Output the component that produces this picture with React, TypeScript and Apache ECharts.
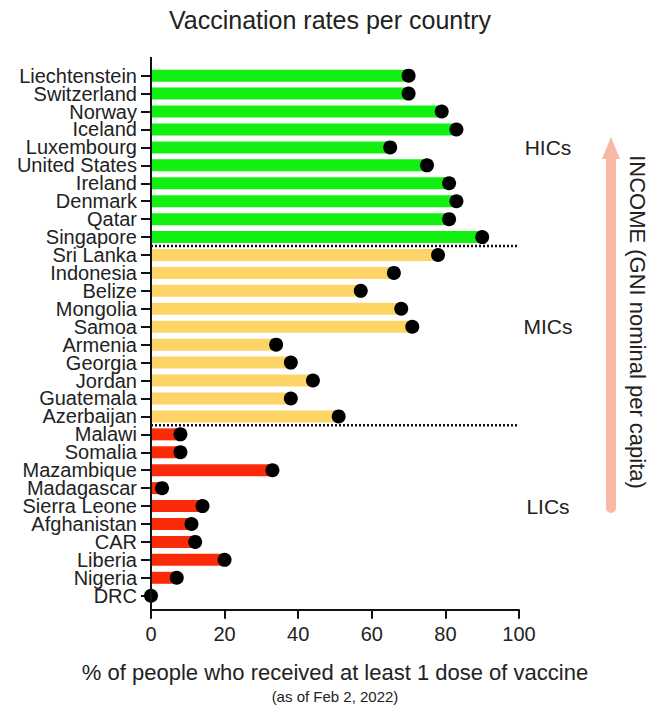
import React, { useEffect, useRef } from "react";
import * as echarts from "echarts";

const countries = [
  "Liechtenstein", "Switzerland", "Norway", "Iceland", "Luxembourg",
  "United States", "Ireland", "Denmark", "Qatar", "Singapore",
  "Sri Lanka", "Indonesia", "Belize", "Mongolia", "Samoa",
  "Armenia", "Georgia", "Jordan", "Guatemala", "Azerbaijan",
  "Malawi", "Somalia", "Mazambique", "Madagascar", "Sierra Leone",
  "Afghanistan", "CAR", "Liberia", "Nigeria", "DRC",
];
const vaccinated = [
  70, 70, 79, 83, 65, 75, 81, 83, 81, 90,
  78, 66, 57, 68, 71, 34, 38, 44, 38, 51,
  8, 8, 33, 3, 14, 11, 12, 20, 7, 0,
];
const incomeGroup = [
  "HIC", "HIC", "HIC", "HIC", "HIC", "HIC", "HIC", "HIC", "HIC", "HIC",
  "MIC", "MIC", "MIC", "MIC", "MIC", "MIC", "MIC", "MIC", "MIC", "MIC",
  "LIC", "LIC", "LIC", "LIC", "LIC", "LIC", "LIC", "LIC", "LIC", "LIC",
];
const groupNames = ["HIC", "MIC", "LIC"];
const groupLabels = ["HICs", "MICs", "LICs"];
const groupColors: Record<string, string> = { HIC: "#12f012", MIC: "#fdd466", LIC: "#fb2b0a" };
const xTicks = [0, 20, 40, 60, 80, 100];

const FONT = "'Liberation Sans', Arial, sans-serif";
const TXT = "#222";

export default function App() {
  const ref = useRef<HTMLDivElement>(null);
  useEffect(() => {
    if (!ref.current) return;
    const chart = echarts.init(ref.current, undefined, { renderer: "svg" });
    const boundaries: number[] = [];
    for (let i = 1; i < incomeGroup.length; i++) {
      if (incomeGroup[i] !== incomeGroup[i - 1]) boundaries.push(i);
    }
    const gridLeft = 151, gridTop = 66.7, gridW = 368, gridH = 538;
    const rowH = gridH / countries.length;
    const labelText = groupNames.map((g, k) => {
      const first = incomeGroup.indexOf(g);
      const y = gridTop + rowH * (first + 4.5);
      return {
        type: "text",
        x: 548,
        y,
        style: { text: groupLabels[k], font: `21px ${FONT}`, fill: TXT, textAlign: "center", textVerticalAlign: "middle" },
      };
    });
    const separators = boundaries.map((b) => ({
      type: "line",
      shape: { x1: gridLeft, y1: gridTop + rowH * b, x2: gridLeft + gridW, y2: gridTop + rowH * b },
      style: { stroke: "#111", lineWidth: 2.5, lineDash: [2, 2] },
      z: 5,
    }));
    chart.setOption({
      animation: false,
      textStyle: { fontFamily: FONT },
      grid: { left: gridLeft, top: gridTop, width: gridW, height: gridH, containLabel: false },
      xAxis: {
        type: "value",
        min: xTicks[0],
        max: xTicks[xTicks.length - 1],
        interval: xTicks[1] - xTicks[0],
        offset: 5,
        axisLine: { show: true, lineStyle: { color: "#111", width: 2 } },
        axisTick: { show: true, length: 9, lineStyle: { color: "#111", width: 2 } },
        axisLabel: { fontSize: 20, color: TXT, margin: 14, fontFamily: FONT },
        splitLine: { show: false },
        name: "% of people who received at least 1 dose of vaccine",
        nameLocation: "middle",
        nameGap: 52,
        nameTextStyle: { fontSize: 22, color: TXT, fontFamily: FONT },
      },
      yAxis: {
        type: "category",
        data: countries,
        inverse: true,
        axisLine: { show: false },
        axisTick: { show: true, alignWithLabel: true, length: 10, lineStyle: { color: "#111", width: 2 } },
        axisLabel: { fontSize: 20, lineHeight: 17, color: TXT, margin: 14, fontFamily: FONT, interval: 0 },
        splitLine: { show: false },
      },
      series: [
        {
          type: "bar",
          barWidth: 12,
          data: vaccinated.map((v, i) => ({ value: v, itemStyle: { color: groupColors[incomeGroup[i]] } })),
          z: 2,
        },
        {
          type: "scatter",
          symbolSize: 14,
          itemStyle: { color: "#000", opacity: 1 },
          data: countries.map((c, i) => [vaccinated[i], c]),
          z: 3,
        },
      ],
      graphic: [
        {
          type: "text",
          x: 330,
          y: 20,
          style: { text: "Vaccination rates per country", font: `25px ${FONT}`, fill: TXT, textAlign: "center", textVerticalAlign: "middle" },
        },
        {
          type: "text",
          x: 335,
          y: 696,
          style: { text: "(as of Feb 2, 2022)", font: `15px ${FONT}`, fill: TXT, textAlign: "center", textVerticalAlign: "middle" },
        },
        {
          type: "line",
          shape: { x1: gridLeft, y1: 57, x2: gridLeft, y2: gridTop + gridH + 6 },
          style: { stroke: "#111", lineWidth: 2 },
          z: 10,
        },
        ...separators,
        ...labelText,
        {
          type: "rect",
          shape: { x: 606, y: 152, width: 10, height: 361, r: [0, 0, 5, 5] },
          style: { fill: "#f9b7a5" },
        },
        {
          type: "polygon",
          shape: { points: [[602, 159], [611, 137], [620, 159]] },
          style: { fill: "#f9b7a5" },
        },
        {
          type: "text",
          x: 637,
          y: 322,
          rotation: -Math.PI / 2,
          style: { text: "INCOME (GNI nominal per capita)", font: `22px ${FONT}`, fill: TXT, textAlign: "center", textVerticalAlign: "middle" },
        },
      ],
    });
    return () => chart.dispose();
  }, []);
  return <div ref={ref} style={{ position: "fixed", left: 0, top: 0, width: 649, height: 706, background: "#fff" }} />;
}
